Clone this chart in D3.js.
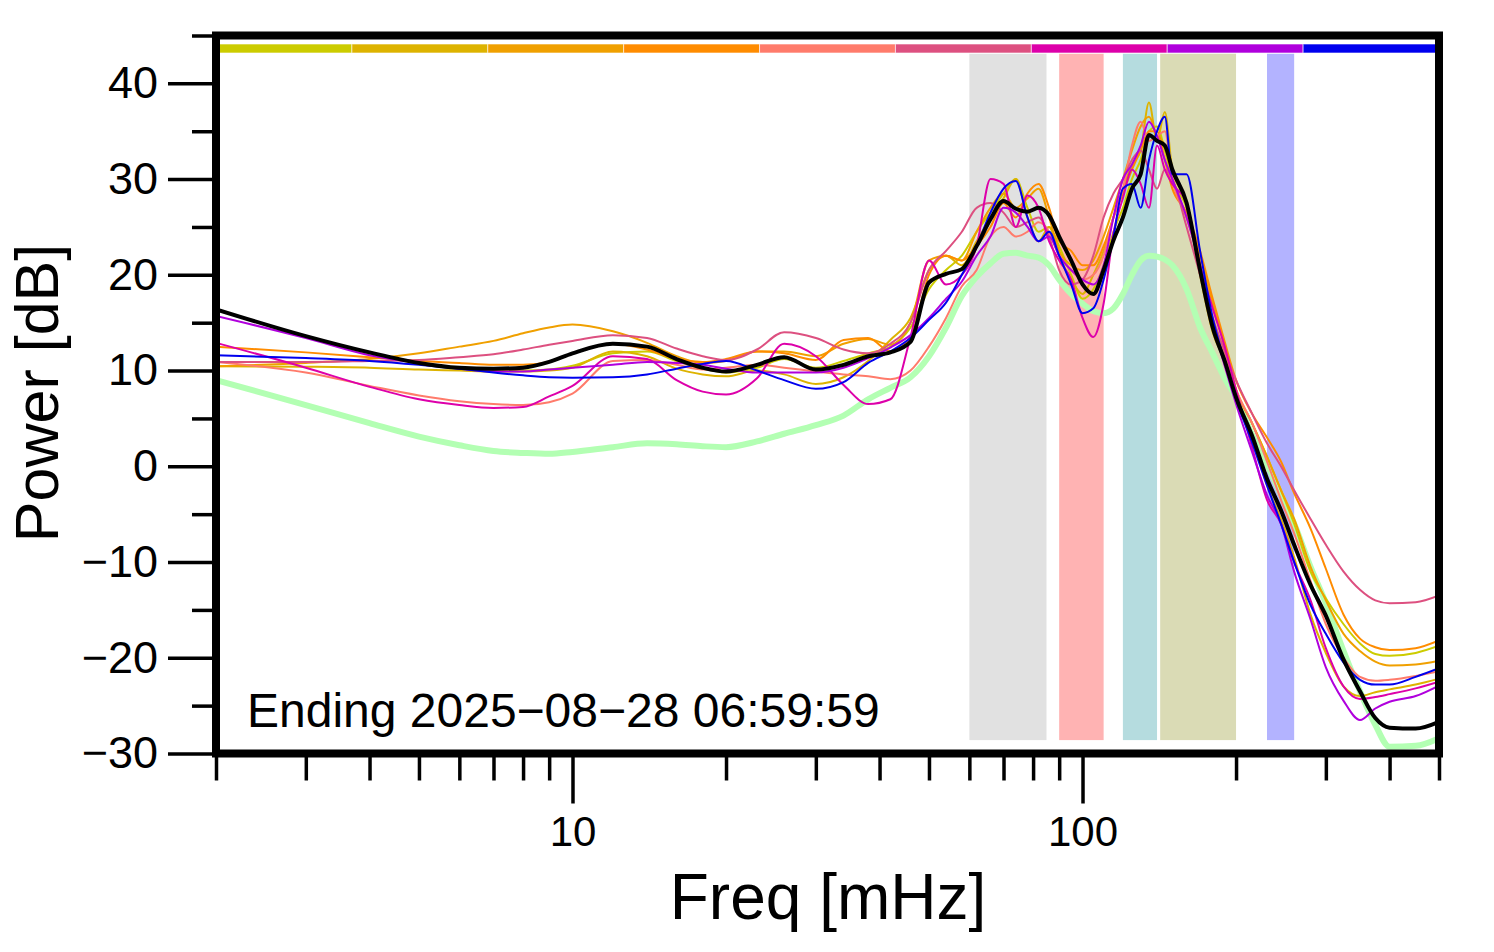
<!DOCTYPE html>
<html>
<head>
<meta charset="utf-8">
<script src="https://cdn.jsdelivr.net/npm/d3@7"></script>
<style>
  body { margin: 0; background: #fff; }
  text { font-family: "Liberation Sans", Arial, Helvetica, sans-serif; }
</style>
</head>
<body>
<div id="chart"></div>
<script>
// frequency grid [mHz]
const freqs = [2, 3, 4, 5, 6, 7, 8, 9, 10, 12, 14, 16, 18, 20, 23, 26, 30, 34, 38, 42, 46, 50, 54, 58, 62, 66, 70, 74, 78, 82, 86, 90, 95, 100, 105, 110, 115, 120, 125, 130, 135, 140, 145, 150, 160, 170, 180, 190, 200, 215, 230, 245, 260, 280, 300, 325, 350, 375, 400, 450, 500];

// power [dB] per hourly spectrum
const powOlive = [16.4, 13.5, 11.8, 10.7, 10.2, 10.0, 10.0, 10.1, 10.5, 11.8, 12.0, 11.0, 10.2, 9.8, 10.3, 11.2, 10.3, 11.0, 11.8, 12.5, 14.5, 18.5, 20.5, 22.0, 24.5, 26.5, 28.5, 30.0, 27.0, 24.5, 25.0, 23.0, 20.0, 17.5, 18.5, 21.0, 24.5, 27.0, 30.0, 32.0, 35.0, 35.5, 33.0, 30.0, 27.0, 21.0, 15.0, 12.0, 8.0, 4.5, 1.0, -2.5, -6.0, -11.0, -13.8, -16.5, -18.5, -19.6, -19.8, -19.5, -18.75];
const powGold = [10.45, 10.4, 10.3, 10.1, 10.0, 9.9, 9.9, 10.0, 10.3, 12.0, 11.5, 10.2, 9.6, 9.4, 10.0, 9.6, 8.6, 9.3, 11.0, 13.2, 15.5, 20.5, 22.0, 21.0, 23.5, 26.0, 28.0, 30.0, 26.0, 23.5, 25.0, 22.0, 19.5, 18.0, 20.0, 22.5, 26.0, 29.0, 31.5, 33.0, 38.0, 34.0, 37.0, 31.0, 27.5, 20.0, 14.0, 11.0, 7.0, 3.0, -2.0, -5.5, -9.5, -15.5, -19.5, -23.0, -24.0, -23.6, -23.3, -22.8, -22.2];
const powOrange = [10.45, 10.8, 11.2, 11.8, 12.5, 13.1, 13.9, 14.5, 14.8, 14.1, 12.9, 11.5, 10.8, 11.0, 12.0, 12.0, 11.5, 12.8, 13.3, 12.7, 15.0, 21.5, 22.0, 21.5, 24.5, 27.0, 28.5, 27.0, 28.0, 29.0, 26.0, 22.5, 21.0, 20.5, 21.5, 24.0, 27.0, 30.0, 33.0, 35.5, 36.5, 34.5, 33.5, 30.0, 26.0, 22.0, 17.0, 12.5, 8.0, 4.5, 1.0, -2.5, -5.5, -10.5, -14.0, -17.5, -19.3, -20.4, -20.8, -20.7, -20.3];
const powDarkOrange = [12.5, 11.9, 11.4, 11.0, 10.8, 10.6, 10.6, 10.9, 11.8, 12.8, 12.2, 11.2, 10.9, 11.2, 12.0, 11.8, 11.1, 13.2, 13.4, 12.0, 13.5, 20.0, 22.0, 21.5, 23.0, 25.0, 27.5, 26.0, 28.5, 29.5, 27.0, 23.5, 22.5, 21.0, 21.0, 23.0, 26.0, 28.5, 31.0, 33.0, 35.0, 35.0, 32.0, 29.0, 26.5, 22.5, 17.5, 13.0, 9.0, 5.5, 3.0, 0.5, -2.8, -6.5, -10.7, -15.5, -18.0, -18.9, -19.2, -19.0, -18.2];
const powSalmon = [10.9, 9.8, 8.4, 7.4, 6.8, 6.5, 6.4, 6.7, 7.6, 11.0, 11.1, 10.6, 10.1, 10.3, 10.6, 10.3, 9.9, 9.6, 9.4, 9.1, 10.0, 12.5, 15.5, 18.8, 20.5, 24.0, 25.0, 24.0, 24.5, 25.5, 24.5, 22.0, 20.5, 19.5, 20.0, 22.0, 26.0, 29.0, 33.5, 36.0, 34.0, 34.5, 35.0, 30.0, 26.0, 21.0, 15.0, 11.5, 8.0, 4.5, 0.5, -3.5, -7.0, -12.0, -16.5, -20.0, -22.0, -22.4, -22.3, -21.9, -21.4];
const powPink = [10.9, 10.9, 11.0, 11.1, 11.4, 11.7, 12.2, 12.7, 13.1, 13.7, 13.4, 12.3, 11.5, 11.1, 12.2, 14.0, 13.4, 12.2, 11.8, 12.8, 15.0, 20.5, 22.5, 24.5, 27.0, 27.5, 26.5, 25.0, 25.5, 26.0, 24.0, 20.5, 19.0, 19.5, 22.0, 26.0, 28.5, 30.0, 32.0, 33.0, 31.0, 29.0, 31.0, 30.0, 25.0, 20.0, 15.5, 12.0, 9.0, 5.5, 2.4, 0.0, -2.5, -5.5, -8.2, -11.0, -12.9, -14.0, -14.3, -14.2, -13.5];
const powMagenta = [12.9, 10.3, 8.3, 7.0, 6.4, 6.1, 6.2, 7.3, 8.4, 11.5, 11.2, 9.0, 7.8, 7.5, 9.2, 12.8, 11.5, 8.5, 6.5, 7.0, 13.5, 21.5, 19.0, 20.0, 23.0, 30.0, 29.5, 25.0, 28.3, 27.0, 23.5, 21.5, 19.5, 15.5, 13.5, 17.0, 24.4, 28.0, 31.0, 29.5, 27.0, 33.5, 31.0, 29.5, 27.5, 21.0, 16.5, 12.5, 8.0, 2.0, -3.5, -6.0, -10.0, -14.0, -19.0, -23.0, -24.3, -24.1, -23.8, -23.2, -22.5];
const powPurple = [15.7, 13.4, 11.6, 10.8, 10.2, 9.9, 9.9, 10.1, 10.3, 10.6, 10.9, 10.8, 10.6, 10.2, 9.8, 9.8, 9.8, 10.3, 11.3, 12.4, 13.7, 15.5, 17.5, 19.3, 22.0, 24.0, 27.0, 26.5, 25.0, 23.5, 24.0, 22.0, 20.5, 19.5, 19.0, 21.0, 26.0, 30.0, 31.5, 33.5, 36.0, 34.5, 32.0, 30.0, 26.0, 21.0, 15.0, 10.5, 6.5, 1.5, -3.0, -6.0, -11.0, -16.0, -21.0, -24.5, -26.5, -25.3, -24.6, -24.0, -22.9];
const powBlue = [11.6, 11.3, 11.0, 10.6, 10.2, 9.8, 9.5, 9.3, 9.25, 9.3, 9.6, 10.2, 10.7, 11.0, 10.0, 9.0, 8.1, 8.8, 10.8, 12.0, 13.4, 15.3, 17.1, 20.0, 23.0, 26.5, 29.0, 29.8, 26.0, 23.5, 24.5, 22.0, 19.0, 16.0, 16.5, 19.5, 24.0, 29.0, 29.5, 27.0, 32.0, 35.0, 36.5, 30.5, 30.5, 22.5, 15.5, 11.0, 7.0, 2.5, -2.0, -6.0, -10.0, -14.5, -17.5, -20.5, -22.3, -22.8, -22.8, -22.0, -21.1];
// mean of the spectra and the quiet reference
const powMean = [16.4, 13.6, 11.9, 10.8, 10.3, 10.2, 10.3, 10.9, 11.8, 12.8, 12.5, 11.2, 10.3, 9.9, 10.6, 11.4, 10.1, 10.6, 11.5, 11.9, 13.0, 19.2, 20.1, 20.6, 23.0, 25.8, 27.7, 26.9, 26.6, 27.0, 26.2, 24.0, 21.5, 19.0, 18.0, 20.5, 23.6, 26.0, 29.0, 30.5, 34.6, 34.0, 33.5, 31.0, 27.5, 20.5, 14.5, 11.0, 7.2, 3.2, -1.3, -4.6, -8.2, -12.4, -15.6, -20.2, -23.5, -26.3, -27.3, -27.4, -26.7];
const powQuiet = [9.0, 6.4, 4.5, 3.1, 2.2, 1.6, 1.4, 1.3, 1.5, 2.0, 2.4, 2.3, 2.1, 2.0, 2.6, 3.4, 4.3, 5.3, 7.0, 8.2, 9.3, 11.5, 14.5, 17.8, 19.8, 21.2, 22.2, 22.3, 22.0, 21.8, 21.0, 19.5, 18.0, 17.0, 16.2, 16.0, 16.5, 18.0, 20.0, 21.5, 22.0, 21.9, 21.6, 21.0, 18.5, 14.5, 11.8, 9.2, 7.2, 3.3, 0.2, -3.0, -6.0, -10.5, -14.3, -19.3, -23.5, -27.0, -29.3, -29.2, -28.4];

const seriesColors = ['#cccc00', '#ddb300', '#f0a000', '#ff8c00', '#ff7b6b', '#dd5080', '#dd00aa', '#b000dd', '#0000ee'];
const seriesValues = [powOlive, powGold, powOrange, powDarkOrange, powSalmon, powPink, powMagenta, powPurple, powBlue];

// highlighted frequency bands [mHz]
const bandRanges = [[60, 85], [90, 110], [120, 140], [142, 200], [230, 260]];
const bandColors = ['#e1e1e1', '#ffb3b3', '#b5dcdf', '#dadbb5', '#b3b3ff'];

const yMajorTicks = [-30, -20, -10, 0, 10, 20, 30, 40];
const yMinorTicks = [-25, -15, -5, 5, 15, 25, 35, 45];
const xMajorTicks = [10, 100];
const xMinorTicks = [2, 3, 4, 5, 6, 7, 8, 9, 20, 30, 40, 50, 60, 70, 80, 90, 200, 300, 400, 500];

const endingLabel = 'Ending 2025\u221208\u221228 06:59:59';

const width = 1494;
const height = 952;
const margin = { left: 216, right: 55, top: 35.5, bottom: 198.5 };
const plotW = width - margin.left - margin.right;
const plotH = height - margin.top - margin.bottom;

const svg = d3.select('#chart')
  .append('svg')
  .attr('width', width)
  .attr('height', height);

const x = d3.scaleLog().domain([2, 500]).range([margin.left, margin.left + plotW]);
const y = d3.scaleLinear().domain([-30, 45]).range([margin.top + plotH, margin.top]);

svg.append('clipPath')
  .attr('id', 'plot-clip')
  .append('rect')
  .attr('x', margin.left)
  .attr('y', margin.top)
  .attr('width', plotW)
  .attr('height', plotH);

// shaded bands
svg.append('g')
  .selectAll('rect')
  .data(bandRanges)
  .enter()
  .append('rect')
  .attr('x', d => x(d[0]))
  .attr('width', d => x(d[1]) - x(d[0]))
  .attr('y', y(43.1))
  .attr('height', y(-28.6) - y(43.1))
  .attr('fill', (d, i) => bandColors[i]);

const line = d3.line()
  .x(d => x(d[0]))
  .y(d => y(d[1]))
  .curve(d3.curveMonotoneX);

const toPoints = vals => freqs.map((f, i) => [f, vals[i]]).filter(p => p[1] !== undefined);

const lines = svg.append('g').attr('clip-path', 'url(#plot-clip)');

// quiet reference underneath
lines.append('path')
  .datum(toPoints(powQuiet))
  .attr('d', line)
  .attr('fill', 'none')
  .attr('stroke', '#b3ffb3')
  .attr('stroke-width', 6)
  .attr('stroke-linejoin', 'round');

lines.selectAll('.spec')
  .data(seriesValues)
  .enter()
  .append('path')
  .attr('class', 'spec')
  .attr('d', d => line(toPoints(d)))
  .attr('fill', 'none')
  .attr('stroke', (d, i) => seriesColors[i])
  .attr('stroke-width', 2)
  .attr('stroke-linejoin', 'round');

lines.append('path')
  .datum(toPoints(powMean))
  .attr('d', line)
  .attr('fill', 'none')
  .attr('stroke', '#000')
  .attr('stroke-width', 4)
  .attr('stroke-linejoin', 'round');

// colour key along the top
const barX = d3.scaleLinear().domain([0, seriesColors.length]).range([margin.left, margin.left + plotW]);
svg.append('g')
  .selectAll('rect')
  .data(seriesColors)
  .enter()
  .append('rect')
  .attr('x', (d, i) => barX(i))
  .attr('width', (d, i) => barX(i + 1) - barX(i))
  .attr('y', 44)
  .attr('height', 9)
  .attr('fill', d => d)
  .attr('stroke', 'rgba(255,255,255,0.6)')
  .attr('stroke-width', 1);

// axes
svg.append('g')
  .attr('class', 'y-major')
  .attr('transform', `translate(${margin.left},0)`)
  .call(d3.axisLeft(y).tickValues(yMajorTicks).tickSize(48).tickPadding(10));
svg.append('g')
  .attr('transform', `translate(${margin.left},0)`)
  .call(d3.axisLeft(y).tickValues(yMinorTicks).tickSize(24).tickFormat(''));

svg.append('g')
  .attr('class', 'x-major')
  .attr('transform', `translate(0,${margin.top + plotH})`)
  .call(d3.axisBottom(x).tickValues(xMajorTicks).tickSize(50).tickPadding(13).tickFormat(d3.format('d')));
svg.append('g')
  .attr('transform', `translate(0,${margin.top + plotH})`)
  .call(d3.axisBottom(x).tickValues(xMinorTicks).tickSize(27).tickFormat(''));

svg.selectAll('.domain').remove();
svg.selectAll('.tick line').attr('stroke', '#000').attr('stroke-width', 3.5);
svg.selectAll('.tick text')
  .attr('fill', '#000')
  .style('font-family', '"Liberation Sans", Arial, sans-serif');
svg.selectAll('.y-major .tick text').style('font-size', '45px');
svg.selectAll('.x-major .tick text').style('font-size', '42px');

// frame
svg.append('rect')
  .attr('x', margin.left)
  .attr('y', margin.top)
  .attr('width', plotW)
  .attr('height', plotH)
  .attr('fill', 'none')
  .attr('stroke', '#000')
  .attr('stroke-width', 8);

// labels
svg.append('text')
  .attr('x', 247)
  .attr('y', 727)
  .style('font-size', '48px')
  .text(endingLabel);

svg.append('text')
  .attr('transform', 'translate(58,393) rotate(-90)')
  .attr('text-anchor', 'middle')
  .style('font-size', '61px')
  .text('Power [dB]');

svg.append('text')
  .attr('x', 828)
  .attr('y', 919)
  .attr('text-anchor', 'middle')
  .style('font-size', '64px')
  .text('Freq [mHz]');
</script>
</body>
</html>
